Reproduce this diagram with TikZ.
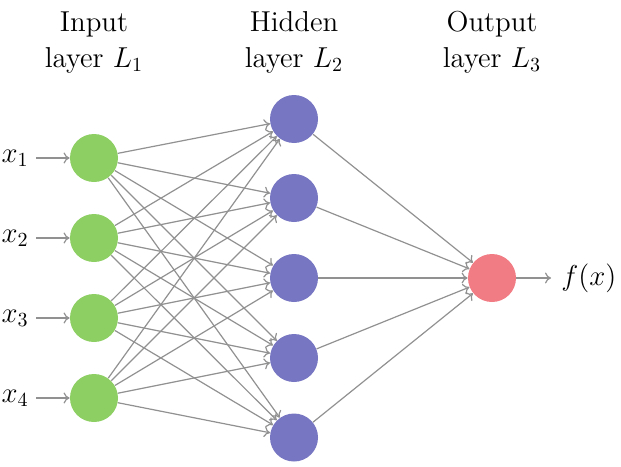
\documentclass[tikz,border=0pt]{standalone}
\usetikzlibrary{arrows.meta}
\definecolor{ingreen}{RGB}{142,207,100}
\definecolor{hidblue}{RGB}{118,118,194}
\definecolor{outred}{RGB}{242,124,132}
\definecolor{edgegray}{RGB}{145,145,145}
\begin{document}
\begin{tikzpicture}[x=0.5pt,y=-0.5pt,
  every node/.style={font=\Large},
  neuron/.style={circle,minimum size=24pt,inner sep=0pt},
  inneuron/.style={neuron,fill=ingreen},
  hidneuron/.style={neuron,fill=hidblue},
  outneuron/.style={neuron,fill=outred},
  conn/.style={draw=edgegray,line width=0.6pt,-{To[length=3pt,width=5.5pt]}},
  layerlabel/.style={anchor=north,align=center,inner sep=0pt}]
\useasboundingbox (0,0) rectangle (621,466);
% nodes
\foreach \i/\y in {1/158,2/238,3/318,4/398}
  \node[inneuron] (I\i) at (94,\y) {};
\foreach \i/\y in {1/119,2/198,3/278,4/358,5/437.5}
  \node[hidneuron] (H\i) at (294,\y) {};
\node[outneuron] (O) at (492,278) {};
% inputs
\foreach \i/\y in {1/158,2/238,3/318,4/398}{
  \coordinate (s\i) at (36,\y);
  \node[anchor=east,inner sep=3.5pt] (x\i) at (s\i) {$x_\i$};
  \draw[conn] (s\i) -- (I\i);
}
% edges
\foreach \i in {1,...,4}
  \foreach \j in {1,...,5}
    \draw[conn] (I\i) -- (H\j);
\foreach \j in {1,...,5}
  \draw[conn] (H\j) -- (O);
\coordinate (fe) at (551,278);
\draw[conn] (O) -- (fe);
\node[anchor=west,inner sep=5pt] (f) at (fe) {$f(x)$};
% labels
\node[layerlabel] (L1) at (94,11) {Input\\layer $L_1$};
\node[layerlabel] (L2) at (294,11) {Hidden\\layer $L_2$};
\node[layerlabel] (L3) at (492,11) {Output\\layer $L_3$};
\end{tikzpicture}
\end{document}
